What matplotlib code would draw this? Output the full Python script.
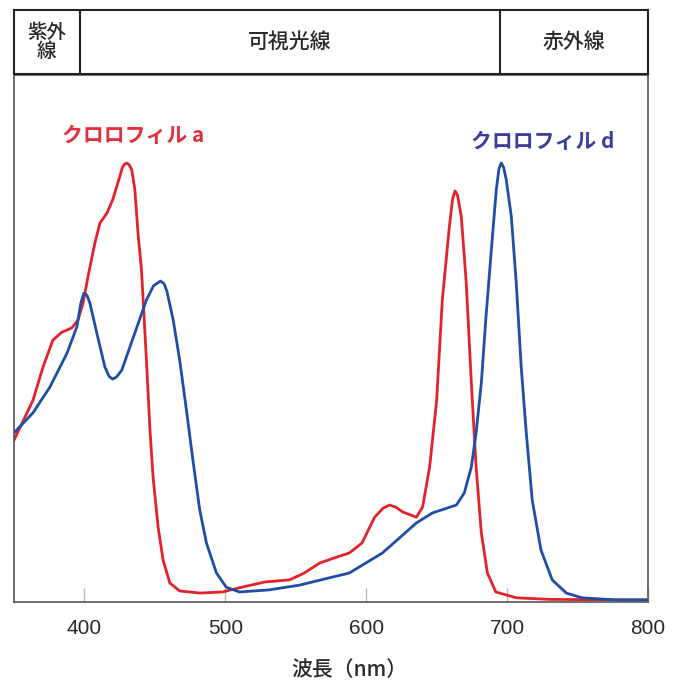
import matplotlib.pyplot as plt

plt.rcParams['font.family'] = ['Noto Sans CJK JP', 'DejaVu Sans']

# absorption spectra (relative absorbance)
chl_a_nm = [350, 363.5, 370.6, 377.6, 384, 391, 395.4, 399, 402.5, 407.4, 411, 416,
            420, 423.7, 427, 428.6, 430, 431.6, 433.6, 435.8, 438, 440.5, 444,
            446.4, 448.7, 452.3, 455.8, 460.6, 467.6, 482, 498, 510, 528, 545.6,
            556, 567, 581, 588, 597, 606, 612, 616.5, 621, 625.7, 635.6, 640, 645,
            650, 654, 659, 661.3, 663, 664.8, 667.5, 671, 674.6, 678, 681.7, 686,
            692, 706.5, 730, 779, 800]
chl_a_abs = [0.307, 0.383, 0.446, 0.497, 0.512, 0.520, 0.535, 0.567, 0.617, 0.681,
             0.719, 0.738, 0.763, 0.795, 0.825, 0.831, 0.833, 0.830, 0.820, 0.782,
             0.700, 0.630, 0.459, 0.332, 0.237, 0.142, 0.080, 0.036, 0.021, 0.017,
             0.019, 0.027, 0.038, 0.042, 0.055, 0.074, 0.087, 0.093, 0.112, 0.161,
             0.178, 0.184, 0.180, 0.171, 0.161, 0.180, 0.256, 0.383, 0.573, 0.712,
             0.765, 0.780, 0.772, 0.731, 0.605, 0.416, 0.256, 0.131, 0.055, 0.019,
             0.008, 0.005, 0.004, 0.004]

chl_d_nm = [350, 363.5, 375.5, 387.6, 394.6, 397.5, 399.6, 401.8, 403.9, 408.8,
            414.5, 417.5, 420, 422.8, 426.5, 434, 444, 449, 454, 456.5, 458.5, 463,
            467.6, 472.4, 477, 481.8, 486.6, 493.7, 500.7, 510, 531, 552.7, 574, 588,
            611.5, 635.6, 647, 664, 669.6, 674.6, 678, 681.7, 685, 688.8, 692.3,
            694.2, 695.8, 697.5, 699.4, 703, 706.5, 710, 713.6, 717.8, 724, 732,
            742, 753, 777, 800]
chl_d_abs = [0.321, 0.359, 0.408, 0.472, 0.522, 0.568, 0.586, 0.582, 0.567, 0.510,
             0.446, 0.428, 0.423, 0.427, 0.440, 0.497, 0.573, 0.600, 0.609, 0.604,
             0.590, 0.535, 0.459, 0.364, 0.269, 0.175, 0.112, 0.055, 0.028, 0.019,
             0.023, 0.032, 0.046, 0.055, 0.093, 0.150, 0.169, 0.184, 0.207, 0.256,
             0.321, 0.416, 0.541, 0.668, 0.782, 0.822, 0.833, 0.825, 0.801, 0.731,
             0.605, 0.446, 0.321, 0.194, 0.099, 0.042, 0.017, 0.008, 0.004, 0.004]

# spectral regions shown in the band above the plot
bands = ['紫外\n線', '可視光線', '赤外線']
band_edges = [350, 396.5, 695, 800]
xticks = [400, 500, 600, 700, 800]

RED = '#e3222c'
BLUE = '#1e4ea6'
TEXT = '#2a2a2a'

fig = plt.figure(figsize=(6.82, 6.80), dpi=100)
ax = fig.add_axes([14 / 682, 1 - 602 / 680, 634 / 682, 527 / 680])
band = fig.add_axes([14 / 682, 1 - 74 / 680, 634 / 682, 64 / 680])

ax.plot(chl_a_nm, chl_a_abs, color=RED, lw=2.0, solid_joinstyle='round')
ax.plot(chl_d_nm, chl_d_abs, color=BLUE, lw=2.0, solid_joinstyle='round')
ax.text(384, 0.886, 'クロロフィル a', color='#e0303a', fontsize=15,
        fontweight='bold', va='center')
ax.text(674.5, 0.873, 'クロロフィル d', color='#3a3f9c', fontsize=15,
        fontweight='bold', va='center')

ax.set_xlim(350, 800)
ax.set_ylim(0, 1)
ax.set_xticks(xticks)
ax.set_yticks([])
ax.tick_params(axis='x', direction='in', length=10, width=1, color='#bbbbbb',
               pad=12, labelcolor=TEXT)
for lab in ax.get_xticklabels():
    lab.set_fontfamily('Liberation Sans')
    lab.set_fontsize(15)
for s in ax.spines.values():
    s.set_color('#555555')
    s.set_linewidth(1.2)
ax.set_xlabel('波長（nm）', fontsize=15, fontweight='medium', color=TEXT,
              va='center')
ax.xaxis.set_label_coords(0.529, -0.129)

band.set_xlim(350, 800)
band.set_ylim(0, 1)
band.set_xticks([])
band.set_yticks([])
for s in band.spines.values():
    s.set_color('#222222')
    s.set_linewidth(1.5)
for edge in band_edges[1:-1]:
    band.axvline(edge, color='#222222', lw=1.5)
for i, name in enumerate(bands):
    cx = (band_edges[i] + band_edges[i + 1]) / 2
    fs = 14 if i == 0 else 15
    band.text(cx, 0.5, name, ha='center', va='center', fontsize=fs,
              fontweight='medium', color=TEXT, linespacing=1.05)

fig.savefig('out.png', dpi=100)
